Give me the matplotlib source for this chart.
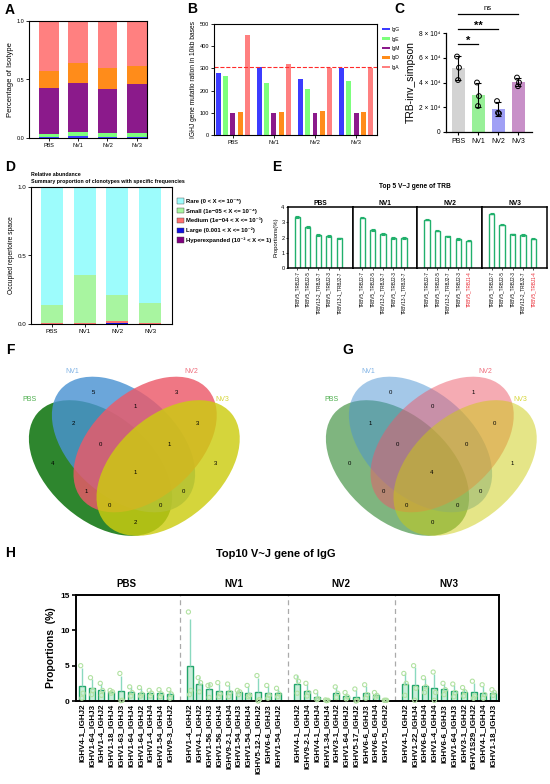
import numpy as np
import matplotlib
matplotlib.use("Agg")
import matplotlib.pyplot as plt
from matplotlib.patches import Ellipse, Patch

plt.rcParams["font.family"] = ["Liberation Sans", "DejaVu Sans"]

W, H = 550, 784

groups = ["PBS", "NV1", "NV2", "NV3"]

# A: isotype fractions (stacked bottom -> top)
isotypes = ["IgG", "IgE", "IgM", "IgD", "IgA"]
iso_colors = ["#3c3cff", "#7dff7d", "#8b1a8b", "#ff8c1a", "#ff8080"]
iso_frac = {
    "IgG": [0.010, 0.020, 0.010, 0.010],
    "IgE": [0.025, 0.030, 0.030, 0.030],
    "IgM": [0.390, 0.420, 0.375, 0.420],
    "IgD": [0.145, 0.175, 0.180, 0.155],
    "IgA": [0.430, 0.355, 0.405, 0.385],
}

# B: IGHJ mutation rate
mut_rate = {
    "IgG": [280, 305, 252, 303],
    "IgE": [265, 232, 207, 242],
    "IgM": [100, 100, 100, 100],
    "IgD": [103, 105, 107, 104],
    "IgA": [450, 318, 303, 302],
}
mut_ref = 308

# C: TRB inverse simpson replicates
inv_simpson = {
    "PBS": [6.1e4, 5.2e4, 4.2e4],
    "NV1": [4.0e4, 2.9e4, 2.1e4],
    "NV2": [2.5e4, 1.5e4, 1.55e4],
    "NV3": [4.4e4, 4.0e4, 3.7e4],
}
c_colors = ["#d3d3d3", "#98f098", "#a0a0f5", "#c890c8"]
sig_pairs = [(0, 1, "*"), (0, 2, "**"), (0, 3, "ns")]
sig_y = [7.1e4, 8.3e4, 9.5e4]

# D: clonotype frequency classes (bottom -> top)
clone_names = ["Hyperexpanded (10⁻² < X <= 1)", "Large (0.001 < X <= 10⁻²)",
               "Medium (1e−04 < X <= 10⁻³)", "Small (1e−05 < X <= 10⁻⁴)",
               "Rare (0 < X <= 10⁻⁵)"]
clone_colors = ["#800080", "#1010e0", "#ff7070", "#a8f5a0", "#9dfcfc"]
clone_frac = [
    [0.000, 0.000, 0.002, 0.000],
    [0.001, 0.001, 0.006, 0.001],
    [0.006, 0.006, 0.012, 0.006],
    [0.133, 0.353, 0.190, 0.147],
    [0.860, 0.640, 0.790, 0.846],
]

# E: top 5 TRB V-J genes
trb_genes = {
    "PBS": ["TRBV5_TRBJ2-7", "TRBV5_TRBJ2-5", "TRBV13-2_TRBJ2-7", "TRBV5_TRBJ2-3", "TRBV13-1_TRBJ2-7"],
    "NV1": ["TRBV5_TRBJ2-7", "TRBV5_TRBJ2-5", "TRBV13-2_TRBJ2-7", "TRBV5_TRBJ2-3", "TRBV13-1_TRBJ2-7"],
    "NV2": ["TRBV5_TRBJ2-7", "TRBV5_TRBJ2-5", "TRBV13-2_TRBJ2-7", "TRBV5_TRBJ2-3", "TRBV5_TRBJ1-4"],
    "NV3": ["TRBV5_TRBJ2-7", "TRBV5_TRBJ2-5", "TRBV5_TRBJ2-3", "TRBV13-2_TRBJ2-7", "TRBV5_TRBJ1-4"],
}
trb_prop = {
    "PBS": [3.35, 2.68, 2.15, 2.10, 1.95],
    "NV1": [3.30, 2.50, 2.22, 1.97, 1.97],
    "NV2": [3.17, 2.45, 2.08, 1.90, 1.80],
    "NV3": [3.57, 2.85, 2.20, 2.15, 1.93],
}
trb_err = [0.05, 0.05, 0.05, 0.05, 0.05]
trb_red = {"PBS": [], "NV1": [], "NV2": [4], "NV3": [4]}

# F, G: venn counts, keys ordered PBS, NV1, NV2, NV3
venn_F = {"1000": 4, "0100": 5, "0010": 3, "0001": 3, "1100": 2, "0110": 1, "0011": 3,
          "1110": 0, "0111": 1, "1111": 1, "1010": 1, "0101": 0, "1011": 0, "1101": 0, "1001": 2}
venn_G = {"1000": 0, "0100": 0, "0010": 1, "0001": 1, "1100": 1, "0110": 0, "0011": 0,
          "1110": 0, "0111": 0, "1111": 4, "1010": 0, "0101": 0, "1011": 0, "1101": 0, "1001": 0}

# H: top10 IgG V-J genes, three replicates each
igg_genes = {
    "PBS": ["IGHV4-1_IGHJ2", "IGHV1-64_IGHJ3", "IGHV1-4_IGHJ2", "IGHV1-18_IGHJ4", "IGHV1-63_IGHJ3",
            "IGHV1-64_IGHJ4", "IGHV1-64_IGHJ2", "IGHV1-4_IGHJ4", "IGHV1-54_IGHJ4", "IGHV9-3_IGHJ2"],
    "NV1": ["IGHV1-4_IGHJ2", "IGHV4-1_IGHJ2", "IGHV1-56_IGHJ3", "IGHV1-56_IGHJ4", "IGHV9-2-1_IGHJ4",
            "IGHV1-54_IGHJ3", "IGHV1-54_IGHJ4", "IGHV5-12-1_IGHJ2", "IGHV6-6_IGHJ3", "IGHV1-54_IGHJ2"],
    "NV2": ["IGHV4-1_IGHJ2", "IGHV9-2-1_IGHJ4", "IGHV4-1_IGHJ4", "IGHV1-34_IGHJ4", "IGHV3-1_IGHJ2",
            "IGHV1-64_IGHJ2", "IGHV5-17_IGHJ2", "IGHV6-6_IGHJ3", "IGHV6-6_IGHJ4", "IGHV1-5_IGHJ2"],
    "NV3": ["IGHV4-1_IGHJ2", "IGHV1-22_IGHJ4", "IGHV6-6_IGHJ4", "IGHV1-4_IGHJ4", "IGHV6-6_IGHJ3",
            "IGHV1-64_IGHJ3", "IGHV3-1_IGHJ2", "IGHV1S29_IGHJ2", "IGHV4-1_IGHJ4", "IGHV1-18_IGHJ3"],
}
igg_reps = {
    "PBS": [[5.0, 1.1, 0.4], [3.3, 1.5, 0.9], [2.5, 1.5, 0.8], [1.5, 1.3, 1.1], [3.9, 0.1, 0.05],
            [2.0, 1.2, 0.7], [1.9, 1.0, 0.7], [1.5, 1.1, 0.7], [1.6, 1.0, 0.6], [1.6, 1.0, 0.4]],
    "NV1": [[12.6, 1.5, 0.9], [3.3, 2.6, 1.3], [2.2, 2.3, 0.5], [2.6, 1.0, 0.6], [2.4, 1.2, 0.6],
            [1.5, 1.3, 0.9], [2.2, 0.8, 0.6], [3.6, 0.2, 0.0], [2.2, 0.8, 0.4], [1.8, 1.0, 0.6]],
    "NV2": [[3.4, 2.8, 1.1], [2.5, 1.2, 0.7], [1.3, 0.3, 0.2], [0.15, 0.1, 0.05], [2.0, 1.1, 0.5],
            [1.2, 0.6, 0.3], [1.7, 0.1, 0.0], [2.3, 0.9, 0.4], [1.2, 0.8, 0.55], [0.1, 0.1, 0.1]],
    "NV3": [[3.9, 2.5, 0.8], [5.0, 1.8, 0.1], [3.3, 2.0, 1.2], [4.1, 1.2, 0.1], [2.5, 1.6, 0.9],
            [2.4, 1.2, 0.6], [1.9, 1.3, 0.7], [2.8, 0.7, 0.4], [2.3, 0.9, 0.4], [1.6, 1.2, 0.8]],
}


def ax_at(fig, x0, y0, x1, y1):
    return fig.add_axes([x0 / W, 1 - y1 / H, (x1 - x0) / W, (y1 - y0) / H])


def ftext(fig, x, y, s, **kw):
    fig.text(x / W, 1 - y / H, s, **kw)


fig = plt.figure(figsize=(W / 100, H / 100), dpi=100)

for lab, x, y in [("A", 10, 10), ("B", 192, 9), ("C", 399, 9), ("D", 10, 167),
                  ("E", 277, 167), ("F", 10, 350), ("G", 348, 350), ("H", 10, 553)]:
    ftext(fig, x, y, lab, fontsize=10, fontweight="bold", ha="center", va="center")

# ---- A
axa = ax_at(fig, 29, 21, 147, 138)
bottom = np.zeros(4)
for iso, col in zip(isotypes, iso_colors):
    axa.bar(range(4), iso_frac[iso], 0.68, bottom=bottom, color=col)
    bottom += np.array(iso_frac[iso])
axa.set_xlim(-0.68, 3.35)
axa.set_ylim(0, 1)
axa.set_yticks([0, 0.5, 1.0])
axa.set_yticklabels(["0.0", "0.5", "1.0"])
axa.set_xticks(range(4))
axa.set_xticklabels(groups)
axa.tick_params(labelsize=4, length=2, width=0.6, pad=1.5)
axa.set_ylabel("Percentage of Isotype", fontsize=5.5, labelpad=2)
for s in axa.spines.values():
    s.set_linewidth(0.8)

# ---- B
axb = ax_at(fig, 214, 24, 377, 135)
for k, (iso, col) in enumerate(zip(isotypes, iso_colors)):
    axb.bar(np.arange(4) + (k - 2) * 0.18, mut_rate[iso], 0.12, color=col)
axb.axhline(mut_ref, color="#ff2a2a", ls="--", lw=0.8)
axb.set_xlim(-0.46, 3.51)
axb.set_ylim(0, 500)
axb.set_yticks(range(0, 501, 100))
axb.set_xticks(range(4))
axb.set_xticklabels(groups)
axb.tick_params(labelsize=4, length=2, width=0.6, pad=1.5)
axb.set_ylabel("IGHJ gene mutatio ration in 10kb bases", fontsize=4.8, labelpad=2)
for s in axb.spines.values():
    s.set_linewidth(0.8)
handles = [Patch(facecolor=c, label=i) for i, c in zip(isotypes, iso_colors)]
fig.legend(handles=handles, loc="upper left", bbox_to_anchor=(380 / W, 1 - 25 / H),
           frameon=False, fontsize=3.6, handlelength=1.6, handleheight=0.4,
           labelspacing=0.9, handletextpad=0.4, borderaxespad=0)

# ---- C
axc = ax_at(fig, 446, 33, 532, 132)
for g, grp in enumerate(groups):
    vals = np.array(inv_simpson[grp])
    m, sd = vals.mean(), vals.std(ddof=1)
    axc.bar(g, m, 0.65, color=c_colors[g])
    axc.errorbar(g, m, yerr=sd, fmt="none", ecolor="black", elinewidth=0.8, capsize=2, capthick=0.8)
    axc.scatter([g - 0.05, g + 0.05, g], vals, s=12, facecolor="none", edgecolor="black",
                lw=0.7, zorder=3, clip_on=False)
for (i, j, lab), yy in zip(sig_pairs, sig_y):
    axc.plot([i, j], [yy, yy], color="black", lw=0.9, clip_on=False)
    if "*" in lab:
        axc.text((i + j) / 2, yy - 0.1e4, lab, ha="center", va="bottom", fontsize=8, fontweight="bold")
    else:
        axc.text((i + j) / 2, yy + 0.2e4, lab, ha="center", va="bottom", fontsize=5.5)
axc.set_xlim(-0.6, 3.7)
axc.set_ylim(0, 8e4)
axc.set_yticks([0, 2e4, 4e4, 6e4, 8e4])
axc.set_yticklabels(["0", "2 × 10⁴", "4 × 10⁴", "6 × 10⁴", "8 × 10⁴"])
axc.set_xticks(range(4))
axc.set_xticklabels(groups)
axc.tick_params(axis="y", labelsize=4.8, length=2.5, width=0.8, pad=1.5)
axc.tick_params(axis="x", labelsize=5, length=2.5, width=0.8, pad=1.5)
axc.set_ylabel("TRB-inv_simpson", fontsize=7.5, labelpad=2)
axc.spines["top"].set_visible(False)
axc.spines["right"].set_visible(False)
for s in ["left", "bottom"]:
    axc.spines[s].set_linewidth(0.9)

# ---- D
axd = ax_at(fig, 31, 187, 172, 324)
bottom = np.zeros(4)
for fr, col in zip(clone_frac, clone_colors):
    axd.bar(range(4), fr, 0.67, bottom=bottom, color=col)
    bottom += np.array(fr)
axd.set_xlim(-0.64, 3.67)
axd.set_ylim(0, 1)
axd.set_yticks([0, 0.5, 1.0])
axd.set_yticklabels(["0.0", "0.5", "1.0"])
axd.set_xticks(range(4))
axd.set_xticklabels(groups)
axd.tick_params(labelsize=4.5, length=2, width=0.6, pad=1.5)
axd.set_ylabel("Occupied repertoire space", fontsize=4.8, labelpad=2)
for s in axd.spines.values():
    s.set_linewidth(0.8)
ftext(fig, 31, 178, "Relative abundance\nSummary proportion of clonotypes with specific frequencies",
      fontsize=3.8, fontweight="bold", ha="left", va="center", linespacing=1.4)
dh = [Patch(facecolor=c, edgecolor="#444444", lw=0.3, label=n)
      for n, c in zip(clone_names[::-1], clone_colors[::-1])]
fig.legend(handles=dh, loc="upper left", bbox_to_anchor=(175 / W, 1 - 196 / H), frameon=False,
           handlelength=1.2, handleheight=1.0, labelspacing=0.7,
           handletextpad=0.3, borderaxespad=0, prop={"weight": "bold", "size": 4.2})

# ---- E
ftext(fig, 415, 187, "Top 5 V~J gene of TRB", fontsize=4.8, fontweight="bold", ha="center", va="center")
e_left, e_right = 288, 547
pw = (e_right - e_left) / 4
for g, grp in enumerate(groups):
    ax = ax_at(fig, e_left + g * pw, 207, e_left + (g + 1) * pw, 268)
    ax.bar(range(5), trb_prop[grp], 0.5, facecolor="white", edgecolor="#21b06c", lw=1.0)
    ax.errorbar(range(5), trb_prop[grp], yerr=trb_err, fmt="none", ecolor="#21b06c",
                elinewidth=0.8, capsize=1.3, capthick=0.8)
    ax.set_xlim(-0.9, 5.3)
    ax.set_ylim(0, 4)
    ax.set_xticks(range(5))
    ax.set_xticklabels(trb_genes[grp], rotation=90, fontsize=3.3)
    for k in trb_red[grp]:
        ax.get_xticklabels()[k].set_color("#e8202a")
    ax.tick_params(axis="x", length=1.5, width=0.5, pad=1)
    ax.set_title(grp, fontsize=4.8, fontweight="bold", pad=1.5)
    if g == 0:
        ax.set_yticks(range(5))
        ax.tick_params(axis="y", labelsize=4, length=1.5, width=0.5, pad=1)
        ax.set_ylabel("Proportions(%)", fontsize=4.2, labelpad=2)
    else:
        ax.set_yticks([])
    for s in ax.spines.values():
        s.set_linewidth(1.1)

# ---- F, G venn
ell = [(0.350, 0.400, 140), (0.450, 0.500, 140), (0.544, 0.500, 40), (0.644, 0.400, 40)]
venn_pos = {"0001": (0.85, 0.42), "0010": (0.68, 0.72), "0011": (0.77, 0.59), "0100": (0.32, 0.72),
            "0101": (0.71, 0.30), "0110": (0.50, 0.66), "0111": (0.65, 0.50), "1000": (0.14, 0.42),
            "1001": (0.50, 0.17), "1010": (0.29, 0.30), "1011": (0.39, 0.24), "1100": (0.23, 0.59),
            "1101": (0.61, 0.24), "1110": (0.35, 0.50), "1111": (0.50, 0.38)}
venn_cols = ["#006c00", "#4a93d2", "#ec5969", "#cccc10"]
name_cols = ["#4cae4c", "#7fb2e5", "#ef6d7c", "#d6d63a"]


def venn4(ax, counts, alpha, name_xy):
    for (cx, cy, ang), c in zip(ell, venn_cols):
        ax.add_patch(Ellipse((cx, cy), 0.72, 0.45, angle=ang, facecolor=c, alpha=alpha, edgecolor="none"))
    for key, (x, y) in venn_pos.items():
        ax.text(x, y, str(counts[key]), ha="center", va="center", fontsize=4.3)
    for grp, (x, y), c in zip(groups, name_xy, name_cols):
        ax.text(x, y, grp, ha="center", va="center", fontsize=5, color=c)
    ax.set_xlim(0, 1)
    ax.set_ylim(0, 1)
    ax.axis("off")


vy0, vy1 = 327, 562
axf = ax_at(fig, 20, vy0, 250, vy1)
venn4(axf, venn_F, 0.82, [(0.043, 0.69), (0.226, 0.81), (0.743, 0.81), (0.878, 0.69)])
axg = ax_at(fig, 317, vy0, 547, vy1)
venn4(axg, venn_G, 0.5, [(0.065, 0.69), (0.222, 0.81), (0.73, 0.81), (0.883, 0.69)])

# ---- H
ftext(fig, 276, 554, "Top10 V~J gene of IgG", fontsize=8, fontweight="bold", ha="center", va="center")
axh = ax_at(fig, 76, 595, 499, 701)
ticks, labels = [], []
for g, grp in enumerate(groups):
    xs = g * 11 + np.arange(10)
    reps = np.array(igg_reps[grp])
    means = reps.mean(axis=1)
    sds = reps.std(axis=1, ddof=1)
    axh.bar(xs, means, 0.62, color="#c9eed9", edgecolor="#22a56b", lw=1.0, zorder=2)
    axh.errorbar(xs, means, yerr=[np.zeros(10), sds], fmt="none", ecolor="#8ad9bf",
                 elinewidth=1.0, capsize=0, zorder=3)
    for k, dx in enumerate([-0.12, 0.12, 0.0]):
        axh.scatter(xs + dx, reps[:, k], s=9, facecolor="none", edgecolor="#b2e2a2",
                    lw=0.8, zorder=4, clip_on=False)
    ftext(fig, 76 + (g * 11 + 4.5 + 0.6) / 43.2 * 423, 584, grp, fontsize=7,
          fontweight="bold", ha="center", va="center")
    ticks += list(xs)
    labels += igg_genes[grp]
for xd in [10, 21, 32]:
    axh.axvline(xd, color="#aaaaaa", ls=(0, (4, 3)), lw=0.9, zorder=1)
axh.set_xlim(-0.6, 42.6)
axh.set_ylim(0, 15)
axh.set_yticks([0, 5, 10, 15])
axh.set_xticks(ticks)
axh.set_xticklabels(labels, rotation=90, fontsize=5.8, fontweight="bold")
axh.tick_params(axis="x", length=0, pad=2)
axh.tick_params(axis="y", labelsize=6, length=3, width=1.2, pad=1.5)
for t in axh.get_yticklabels():
    t.set_fontweight("bold")
axh.set_ylabel("Proportions  (%)", fontsize=7.5, fontweight="bold", labelpad=3)
for s in axh.spines.values():
    s.set_linewidth(1.4)

fig.savefig("out.png", dpi=100)
